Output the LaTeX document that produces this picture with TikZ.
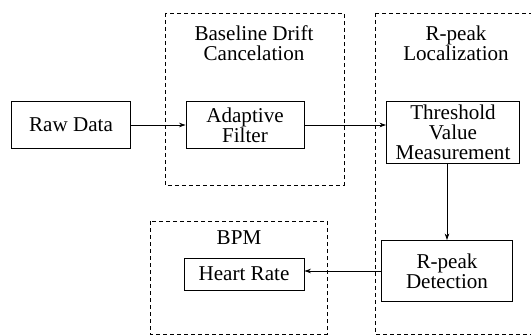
\documentclass[tikz,border=0pt]{standalone}
\usepackage{fontspec}
\setmainfont{Liberation Serif}
\newfontfamily\timesfont{Liberation Serif}
\usepackage{tikz}
\usetikzlibrary{arrows.meta, positioning}

\begin{document}
\begin{tikzpicture}[on grid, auto,
    block/.style={draw, line width=0.5pt, rectangle, align=center, inner sep=0pt,
        font=\timesfont\fontsize{12}{11.4}\selectfont},
    title/.style={align=center, font=\timesfont\fontsize{12}{11.4}\selectfont},
    group/.style={draw, line width=0.5pt, dash pattern=on 0.08cm off 0.06cm},
    link/.style={line width=0.45pt, -{Stealth[length=1.3mm, width=0.9mm]}}]

    \useasboundingbox (0,0) rectangle (10.62,-6.7);

    % Les blocs
    \node[block, minimum width=2.38cm, minimum height=0.94cm] (raw) at (1.42,-2.5) {Raw Data};
    \node[block, minimum width=2.36cm, minimum height=0.94cm, right=3.48cm of raw] (adapt) {Adaptive\\Filter};
    \node[block, minimum width=2.66cm, minimum height=1.24cm, right=4.16cm of adapt, yshift=-0.14cm] (thresh) {Threshold\\Value\\Measurement};
    \node[block, minimum width=2.62cm, minimum height=1.22cm, below=2.78cm of thresh, xshift=-0.12cm] (detect) {R-peak\\Detection};
    \node[block, minimum width=2.4cm, minimum height=0.64cm, left=4.06cm of detect, yshift=-0.06cm] (heart) {Heart Rate};

    % Les groupes
    \draw[group] (3.3,-0.26) rectangle (6.88,-3.7);
    \draw[group] (7.5,-0.26) rectangle (10.64,-6.68);
    \draw[group] (3.0,-4.42) rectangle (6.54,-6.68);
    \node[title, above=1.64cm of adapt, xshift=0.18cm] (tbase) {Baseline Drift\\Cancelation};
    \node[title, above=1.78cm of thresh, xshift=0.06cm] (tpeak) {R-peak\\Localization};
    \node[title, above=0.72cm of heart, xshift=-0.1cm] (tbpm) {BPM};

    % Les liaisons
    \draw[link] (raw) -- (adapt);
    \draw[link] (adapt.east) -- (adapt.east -| thresh.west);
    \draw[link] (detect.north |- thresh.south) -- (detect.north);
    \draw[link] (detect.west) -- (detect.west -| heart.east);

\end{tikzpicture}
\end{document}
